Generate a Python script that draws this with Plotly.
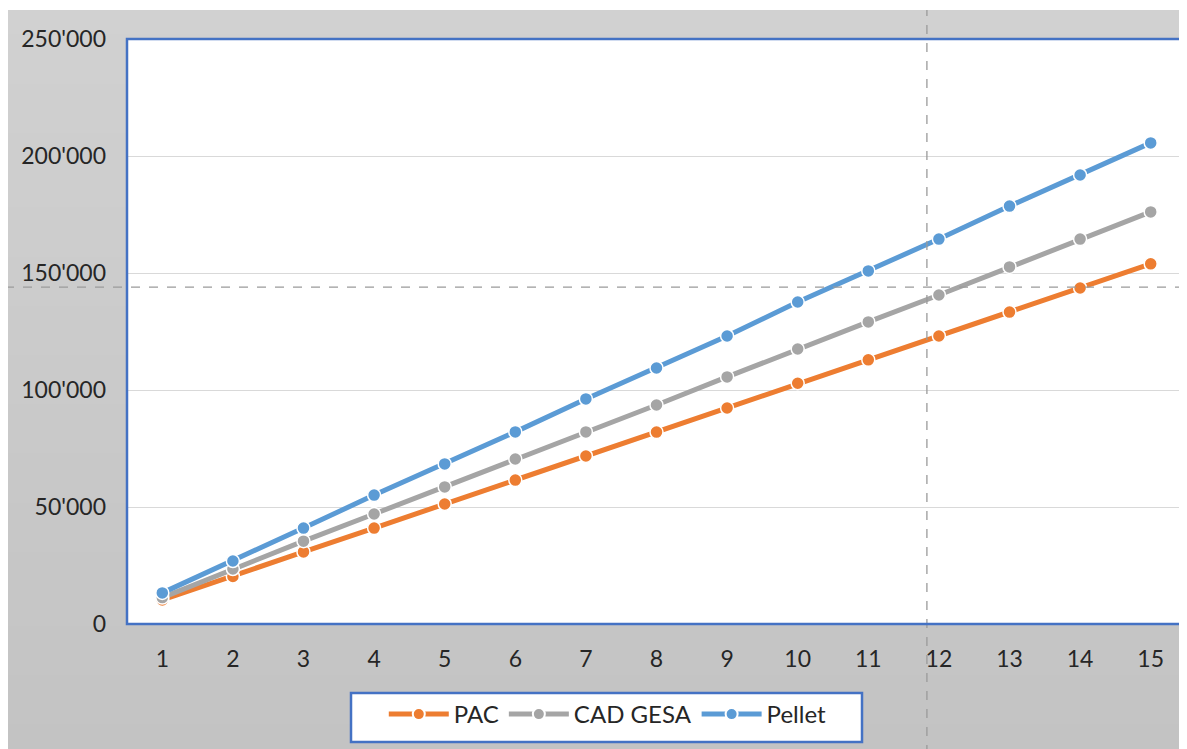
import plotly.graph_objects as go

years = list(range(1, 16))
pac = [10300, 20300, 30800, 41000, 51300, 61500, 71800, 82000, 92300, 102900, 112900, 123100, 133300, 143600, 153900]
cad_gesa = [11300, 23500, 35400, 47000, 58600, 70500, 82100, 93600, 105600, 117500, 129100, 140600, 152600, 164500, 176100]
pellet = [13300, 26900, 41000, 55100, 68400, 82100, 96200, 109400, 123100, 137600, 150900, 164500, 178600, 191900, 205600]
series_names = ["PAC", "CAD GESA", "Pellet"]
series_colors = ["#ED7D31", "#A5A5A5", "#5B9BD5"]
y_ticks = [0, 50000, 100000, 150000, 200000, 250000]
ref_x = 11.83
ref_y = 144000

W, Hfig = 1179, 741
L, T, PW, PH = 119, 31, 1059, 585

fig = go.Figure()
for name, vals, col in zip(series_names, [pac, cad_gesa, pellet], series_colors):
    fig.add_trace(go.Scatter(
        x=years, y=vals, name=name, mode="lines+markers",
        line=dict(color=col, width=5),
        marker=dict(symbol="circle", size=13, color=col, line=dict(color="white", width=1.5)),
    ))

def px_x(x):
    return (x - L) / PW

def px_y(y):
    return (T + PH - y) / PH

shapes = []
# gray gradient background (overlapping bands to avoid seams)
n = 30
top, bot = 2, Hfig
c0, c1 = 209, 195
for i in range(n):
    ya = top + (bot - top) * i / n
    yb = top + (bot - top) * (i + 1) / n + 3
    c = round(c0 + (c1 - c0) * (i + 0.5) / n)
    shapes.append(dict(type="rect", xref="paper", yref="paper",
                       x0=px_x(-5), x1=px_x(W + 5),
                       y0=px_y(min(yb, Hfig + 5)), y1=px_y(ya),
                       fillcolor=f"rgb({c},{c},{c})", line=dict(width=0), layer="below"))
shapes.append(dict(type="rect", xref="paper", yref="paper", x0=0, x1=1, y0=0, y1=1,
                   fillcolor="white", line=dict(width=0), layer="below"))
# reference dashed lines
shapes.append(dict(type="line", xref="x", yref="paper", x0=ref_x, x1=ref_x,
                   y0=px_y(Hfig + 5), y1=px_y(2),
                   line=dict(color="#9a9a9a", width=1.3, dash="dash"), layer="above"))
shapes.append(dict(type="line", xref="paper", yref="y", x0=px_x(-3), x1=px_x(W + 5),
                   y0=ref_y, y1=ref_y,
                   line=dict(color="#9a9a9a", width=1.3, dash="dash"), layer="above"))
# plot border
shapes.append(dict(type="rect", xref="paper", yref="paper", x0=0, x1=1, y0=0, y1=1,
                   line=dict(color="#4472C4", width=2.5), layer="above"))
# legend box
shapes.append(dict(type="rect", xref="paper", yref="paper",
                   x0=px_x(343), x1=px_x(854), y0=px_y(734), y1=px_y(685),
                   fillcolor="white", line=dict(color="#4472C4", width=2.5), layer="above"))

fig.update_layout(
    width=W, height=Hfig,
    margin=dict(l=L, r=W - L - PW, t=T, b=Hfig - T - PH),
    paper_bgcolor="white", plot_bgcolor="rgba(0,0,0,0)",
    separators=".'",
    font=dict(family="Lato, Open Sans, sans-serif", size=23, color="#262626"),
    shapes=shapes,
    showlegend=True,
    legend=dict(orientation="h", x=0.454, xanchor="center", y=px_y(684), yanchor="top",
                bgcolor="rgba(0,0,0,0)", borderwidth=0,
                font=dict(size=24), itemwidth=60, itemsizing="constant"),
)
fig.update_xaxes(range=[0.5, 15.5], tickvals=years, showgrid=False, zeroline=False,
                 ticks="", ticklabelstandoff=19, tickfont=dict(size=23))
fig.update_yaxes(range=[0, 250000], tickvals=y_ticks, tickformat=",", showgrid=True,
                 gridcolor="#D9D9D9", gridwidth=1.3, zeroline=False, ticks="",
                 ticklabelstandoff=20, tickfont=dict(size=23))

fig.write_html("out.html")
